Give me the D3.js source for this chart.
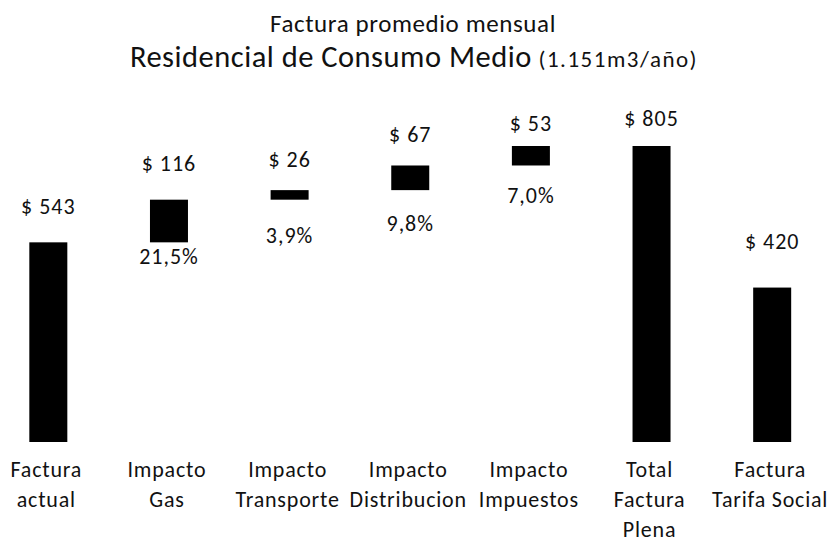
<!DOCTYPE html>
<html>
<head>
<meta charset="utf-8">
<script src="https://cdn.jsdelivr.net/npm/d3@7"></script>
<style>
  html, body { margin: 0; padding: 0; background: #fff; }
  svg { display: block; }
  text { font-family: Calibri, Carlito, Lato, sans-serif; fill: #111; }
</style>
</head>
<body>
<svg id="chart" width="835" height="547"></svg>
<script>
// Chart values
const categories = [
  ['Factura', 'actual'],
  ['Impacto', 'Gas'],
  ['Impacto', 'Transporte'],
  ['Impacto', 'Distribucion'],
  ['Impacto', 'Impuestos'],
  ['Total', 'Factura', 'Plena'],
  ['Factura', 'Tarifa Social']
];
const amounts  = [543, 116, 26, 67, 53, 805, 420];
const barKinds = ['total', 'delta', 'delta', 'delta', 'delta', 'total', 'total'];
const percents = [null, 21.5, 3.9, 9.8, 7.0, null, null];

// Label nudges (the source had hand-placed text boxes)
const valueLift = [28, 29, 23, 23, 15, 20, 39];
const pctDrop   = [0, 22, 43, 41, 38, 0, 0];

const svg = d3.select('#chart');

const esAR = d3.formatLocale({ decimal: ',', thousands: '.', grouping: [3], currency: ['$ ', ''] });
const fmtPct = esAR.format('.1f');

// Waterfall start/end per bar
let running = 0;
const bars = amounts.map((v, i) => {
  let y0, y1;
  if (barKinds[i] === 'delta') { y0 = running; y1 = running + v; running = y1; }
  else { y0 = 0; y1 = v; if (i === 0) running = v; }
  return { i, v, y0, y1, kind: barKinds[i], pct: percents[i], cat: categories[i] };
});

const x = d3.scaleBand()
  .domain(d3.range(categories.length))
  .range([-12, 832.5])
  .paddingInner(0.685)
  .paddingOuter(0.3425);

const y = d3.scaleLinear()
  .domain([0, d3.max(bars, d => d.y1)])
  .range([442, 146]);

// Titles
svg.append('text')
  .attr('x', 413).attr('y', 32)
  .attr('text-anchor', 'middle')
  .attr('font-size', 25).attr('letter-spacing', 0.6)
  .text('Factura promedio mensual');

const t2 = svg.append('text')
  .attr('x', 414).attr('y', 67)
  .attr('text-anchor', 'middle');
t2.append('tspan').attr('font-size', 30.5).attr('letter-spacing', 0.5).text('Residencial de Consumo Medio');
t2.append('tspan').attr('font-size', 23).attr('letter-spacing', 1.5).text(' (1.151m3/año)');

// Bars
svg.append('g').selectAll('rect')
  .data(bars)
  .join('rect')
  .attr('x', d => x(d.i))
  .attr('y', d => y(d.y1))
  .attr('width', x.bandwidth())
  .attr('height', d => y(d.y0) - y(d.y1))
  .attr('fill', '#000');

// Value labels above bars
svg.append('g').selectAll('text')
  .data(bars)
  .join('text')
  .attr('x', d => x(d.i) + x.bandwidth() / 2)
  .attr('y', d => y(d.y1) - valueLift[d.i])
  .attr('text-anchor', 'middle')
  .attr('font-size', 22).attr('letter-spacing', 1)
  .text(d => '$ ' + d.v);

// Percent labels below the impact bars
svg.append('g').selectAll('text')
  .data(bars.filter(d => d.pct != null))
  .join('text')
  .attr('x', d => x(d.i) + x.bandwidth() / 2)
  .attr('y', d => y(d.y0) + pctDrop[d.i])
  .attr('text-anchor', 'middle')
  .attr('font-size', 22).attr('letter-spacing', 1)
  .text(d => fmtPct(d.pct) + '%');

// Category labels
const cats = svg.append('g').selectAll('text')
  .data(bars)
  .join('text')
  .attr('x', d => x(d.i) + x.bandwidth() / 2 - 2)
  .attr('y', 477)
  .attr('text-anchor', 'middle')
  .attr('font-size', 22).attr('letter-spacing', 0.8);

cats.selectAll('tspan')
  .data(d => d.cat)
  .join('tspan')
  .attr('x', function () { return d3.select(this.parentNode).attr('x'); })
  .attr('dy', (d, j) => j === 0 ? 0 : 30)
  .text(d => d);
</script>
</body>
</html>
